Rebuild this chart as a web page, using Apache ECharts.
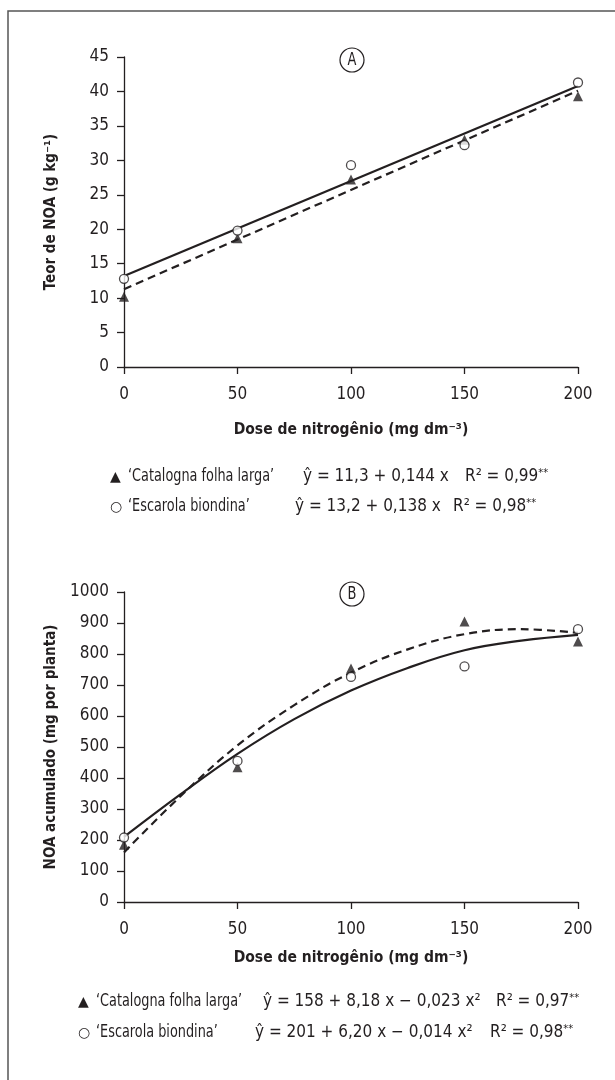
<!DOCTYPE html>
<html>
<head>
<meta charset="utf-8">
<script src="https://cdn.jsdelivr.net/npm/echarts@6/dist/echarts.min.js"></script>
<style>
  html, body { margin: 0; padding: 0; background: #fff; }
  #chart { width: 615px; height: 1080px; }
</style>
</head>
<body>
<div id="chart"></div>
<script>
const doses = [0, 50, 100, 150, 200];

// Panel A: NOA content (g kg-1)
const teorCatalogna = [10.2, 18.7, 27.2, 33.0, 39.3];
const teorEscarola = [12.8, 19.8, 29.3, 32.2, 41.3];
const teorFitX = [0, 200];
const teorFitCatalogna = [11.3, 40.1];
const teorFitEscarola = [13.2, 40.8];

// Panel B: accumulated NOA (mg per plant)
const acumCatalogna = [185, 435, 753, 905, 840];
const acumEscarola = [208, 455, 726, 760, 880];
const acumFitX = [0, 25, 50, 75, 100, 125, 150, 175, 200];
const acumFitCatalogna = [160, 342, 505, 635, 740, 815, 864, 880, 868];
const acumFitEscarola = [210, 348, 478, 590, 682, 755, 812, 843, 862];

const FONT = "'DejaVu Sans Condensed', 'Liberation Sans Narrow', sans-serif";
const INK = '#231f20';

const pairs = (xs, ys) => xs.map((x, i) => [x, ys[i]]);

const xAxisBase = (gridIndex, nameGap) => ({
    type: 'value', gridIndex, min: 0, max: 200, interval: 50,
    name: 'Dose de nitrogênio (mg dm⁻³)', nameLocation: 'middle', nameGap,
    nameTextStyle: {fontFamily: FONT, fontSize: 15.5, fontWeight: 'bold', color: INK},
    axisLine: {onZero: false, lineStyle: {color: INK, width: 1.3}},
    axisTick: {show: true, length: 7, inside: false, lineStyle: {color: INK, width: 1.3}},
    axisLabel: {fontFamily: FONT, fontSize: 17, color: INK, margin: 19},
    splitLine: {show: false}
});

const yAxisBase = (gridIndex, max, interval, name) => ({
    type: 'value', gridIndex, min: 0, max, interval,
    name, nameLocation: 'middle', nameGap: 65,
    nameTextStyle: {fontFamily: FONT, fontSize: 15, fontWeight: 'bold', color: INK},
    axisLine: {show: true, onZero: false, lineStyle: {color: INK, width: 1.3}},
    axisTick: {show: true, length: 7, inside: false, lineStyle: {color: INK, width: 1.3}},
    axisLabel: {fontFamily: FONT, fontSize: 17, color: INK, margin: 15, formatter: (v) => String(v)},
    splitLine: {show: false}
});

const fitLine = (idx, data, dashed, smooth) => ({
    type: 'line', xAxisIndex: idx, yAxisIndex: idx, data, smooth,
    symbol: 'none', z: 2,
    lineStyle: {color: INK, width: 2.2, type: dashed ? [8, 5] : 'solid'}
});

const triangles = (idx, data) => ({
    type: 'scatter', xAxisIndex: idx, yAxisIndex: idx, data, symbol: 'triangle', symbolSize: 10, z: 4,
    itemStyle: {color: INK}
});

const circles = (idx, data) => ({
    type: 'scatter', xAxisIndex: idx, yAxisIndex: idx, data, symbol: 'circle', symbolSize: 9, z: 5,
    itemStyle: {color: '#fff', borderColor: INK, borderWidth: 1.3}
});

const txt = (x, y, text, extra, scaleX) => ({
    type: 'text', x, y, scaleX: scaleX || 1,
    style: Object.assign({
        text, fontFamily: FONT, fontSize: 17, fill: INK, verticalAlign: 'middle',
        rich: {
            n: {fontFamily: FONT, fontSize: 17, color: INK},
            s: {fontFamily: FONT, fontSize: 11, color: INK, padding: [0, 0, 8, 0]}
        }
    }, extra || {})
});

const legendRow = (y, x0, glyph, name, xEq, eq, xR, r2) => [
    txt(x0, y, glyph, {fontFamily: 'DejaVu Sans', fontSize: 14}),
    txt(x0 + 18, y, name, null, 0.84),
    txt(xEq, y, eq),
    txt(xR, y, '{n|R² = ' + r2 + '}{s|**}')
];

const panelLabel = (cx, cy, letter) => [
    {type: 'circle', shape: {cx, cy, r: 12}, style: {fill: 'none', stroke: INK, lineWidth: 1.2}},
    {type: 'text', x: cx, y: cy + 1, scaleX: 0.85, style: {text: letter, fontFamily: FONT, fontSize: 17, fill: INK, align: 'center', verticalAlign: 'middle'}}
];

const chart = echarts.init(document.getElementById('chart'), null, {renderer: 'canvas'});

chart.setOption({
    animation: false,
    backgroundColor: '#fff',
    grid: [
        {left: 124, top: 57, width: 454, height: 310},
        {left: 124, top: 592, width: 454, height: 310}
    ],
    xAxis: [xAxisBase(0, 55), xAxisBase(1, 48)],
    yAxis: [
        yAxisBase(0, 45, 5, 'Teor de NOA (g kg⁻¹)'),
        yAxisBase(1, 1000, 100, 'NOA acumulado (mg por planta)')
    ],
    series: [
        fitLine(0, pairs(teorFitX, teorFitEscarola), false, false),
        fitLine(0, pairs(teorFitX, teorFitCatalogna), true, false),
        triangles(0, pairs(doses, teorCatalogna)),
        circles(0, pairs(doses, teorEscarola)),
        fitLine(1, pairs(acumFitX, acumFitEscarola), false, 0.4),
        fitLine(1, pairs(acumFitX, acumFitCatalogna), true, 0.4),
        triangles(1, pairs(doses, acumCatalogna)),
        circles(1, pairs(doses, acumEscarola))
    ],
    graphic: [
        {type: 'rect', shape: {x: 8, y: 11, width: 700, height: 1200}, style: {fill: 'none', stroke: '#555', lineWidth: 1.5}},
        ...panelLabel(352, 60, 'A'),
        ...panelLabel(352, 594, 'B'),
        ...legendRow(477, 110, '▲', '‘Catalogna folha larga’', 303, 'ŷ = 11,3 + 0,144 x', 465, '0,99'),
        ...legendRow(507, 110, '○', '‘Escarola biondina’', 295, 'ŷ = 13,2 + 0,138 x', 453, '0,98'),
        ...legendRow(1002, 78, '▲', '‘Catalogna folha larga’', 263, 'ŷ = 158 + 8,18 x − 0,023 x²', 496, '0,97'),
        ...legendRow(1033, 78, '○', '‘Escarola biondina’', 255, 'ŷ = 201 + 6,20 x − 0,014 x²', 490, '0,98')
    ]
});
</script>
</body>
</html>
